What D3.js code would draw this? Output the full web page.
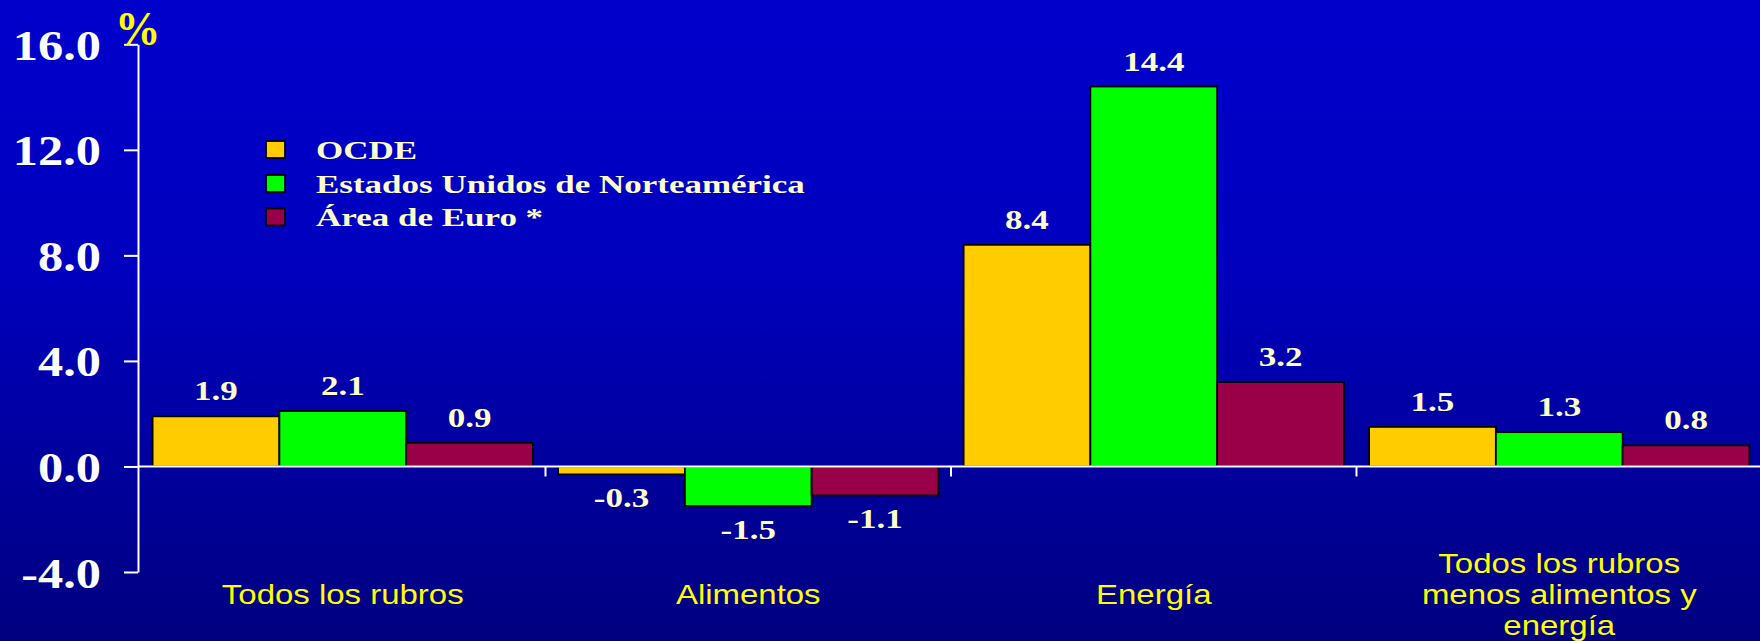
<!DOCTYPE html>
<html>
<head>
<meta charset="utf-8">
<script src="https://cdn.jsdelivr.net/npm/d3@7"></script>
<style>
  html, body { margin: 0; padding: 0; background: #0000cc; overflow: hidden; }
  svg { display: block; }
</style>
</head>
<body>
<svg id="chart" width="1760" height="641"></svg>
<script>
// ---- data ----
const categories = [
  ["Todos los rubros"],
  ["Alimentos"],
  ["Energía"],
  ["Todos los rubros", "menos alimentos y", "energía"]
];
const seriesNames = ["OCDE", "Estados Unidos de Norteamérica", "Área de Euro *"];
const ocde   = [1.9, -0.3, 8.4, 1.5];
const eeuu   = [2.1, -1.5, 14.4, 1.3];
const euro   = [0.9, -1.1, 3.2, 0.8];
const seriesValues = [ocde, eeuu, euro];
const seriesColors = ["#ffcc00", "#00ff00", "#990048"];
const yTicks = [-4, 0, 4, 8, 12, 16];
const yUnit = "%";

// ---- layout ----
const W = 1760, H = 641;
const svg = d3.select("#chart");

const defs = svg.append("defs");
const grad = defs.append("linearGradient").attr("id", "bg")
  .attr("x1", 0).attr("y1", 0).attr("x2", 0).attr("y2", 1);
grad.append("stop").attr("offset", "0").attr("stop-color", "#0000cc");
grad.append("stop").attr("offset", "0.42").attr("stop-color", "#0000be");
grad.append("stop").attr("offset", "1").attr("stop-color", "#000080");
svg.append("rect").attr("width", W).attr("height", H).attr("fill", "url(#bg)");

const axisX = 138;
const y = d3.scaleLinear().domain([-4, 16]).range([572, 44.3]);
const catIdx = d3.range(categories.length);
const x0 = d3.scaleBand().domain(catIdx).range([140, 1762]).padding(0);
const x1 = d3.scaleBand().domain(d3.range(seriesNames.length))
  .range([12.6, x0.bandwidth() - 12.6]).padding(0);

const serif = "'Liberation Serif', 'Times New Roman', serif";
const sans = "'Liberation Sans', Arial, sans-serif";
const fmt = v => v.toFixed(1); // plain hyphen for negatives

function stretchText(sel, sx) {
  sel.each(function() {
    const t = d3.select(this);
    const tx = +t.attr("data-x"), ty = +t.attr("data-y");
    t.attr("transform", `translate(${tx},${ty}) scale(${sx},1)`);
  });
}

// ---- bars ----
const groups = svg.append("g").selectAll("g")
  .data(catIdx).join("g")
  .attr("transform", d => `translate(${x0(d)},0)`);

groups.selectAll("rect")
  .data(ci => seriesValues.map((vals, si) => ({ci, si, v: vals[ci]})))
  .join("rect")
  .attr("x", d => x1(d.si))
  .attr("y", d => y(Math.max(0, d.v)))
  .attr("width", x1.bandwidth())
  .attr("height", d => Math.abs(y(d.v) - y(0)))
  .attr("fill", d => seriesColors[d.si])
  .attr("stroke", "#000")
  .attr("stroke-width", 1.8);

// value labels
groups.selectAll("text.val")
  .data(ci => seriesValues.map((vals, si) => ({ci, si, v: vals[ci]})))
  .join("text").attr("class", "val")
  .attr("data-x", d => x1(d.si) + x1.bandwidth() / 2)
  .attr("data-y", d => d.v >= 0 ? y(d.v) - 16 : y(d.v) + 33)
  .attr("text-anchor", "middle")
  .attr("font-family", serif).attr("font-weight", "bold")
  .attr("font-size", 28).attr("fill", "#ffffcc")
  .text(d => fmt(d.v))
  .call(stretchText, 1.25);

// ---- zero line & category separators ----
svg.append("line")
  .attr("x1", axisX).attr("x2", W)
  .attr("y1", y(0)).attr("y2", y(0))
  .attr("stroke", "#fff").attr("stroke-width", 2);
svg.append("g").selectAll("line")
  .data(catIdx.slice(1)).join("line")
  .attr("x1", d => x0(d)).attr("x2", d => x0(d))
  .attr("y1", y(0)).attr("y2", y(0) + 10)
  .attr("stroke", "#fff").attr("stroke-width", 2);

// ---- y axis ----
const yAxis = svg.append("g")
  .attr("transform", `translate(${axisX},0)`)
  .call(d3.axisLeft(y).tickValues(yTicks).tickFormat(fmt).tickSize(14).tickSizeOuter(0));
yAxis.select(".domain").attr("stroke", "#fff").attr("stroke-width", 2);
yAxis.selectAll(".tick line").attr("stroke", "#fff").attr("stroke-width", 2);
yAxis.selectAll(".tick text")
  .attr("x", null).attr("dy", null)
  .attr("data-x", -37).attr("data-y", 15)
  .attr("text-anchor", "end")
  .attr("font-family", serif).attr("font-weight", "bold")
  .attr("font-size", 42).attr("fill", "#fff")
  .call(stretchText, 1.2);

// unit
svg.append("text")
  .attr("data-x", 115).attr("data-y", 45)
  .attr("font-family", serif).attr("font-weight", "bold")
  .attr("font-size", 48).attr("fill", "#ffff00")
  .text(yUnit)
  .call(stretchText, 0.95);

// ---- category labels ----
const catG = svg.append("g");
categories.forEach((lines, ci) => {
  const cx = x0(ci) + x0.bandwidth() / 2;
  const lh = 30.8;
  const startY = 604 - lh * (lines.length - 1) / 2;
  lines.forEach((ln, li) => {
    catG.append("text")
      .attr("data-x", cx).attr("data-y", startY + li * lh)
      .attr("text-anchor", "middle")
      .attr("font-family", sans).attr("font-size", 26.8)
      .attr("fill", "#ffff00")
      .text(ln)
      .call(stretchText, 1.23);
  });
});

// ---- legend ----
const legend = svg.append("g");
const legBase = [158.5, 192.5, 226];
seriesNames.forEach((name, i) => {
  legend.append("rect")
    .attr("x", 266).attr("y", legBase[i] - 17.5)
    .attr("width", 19).attr("height", 17)
    .attr("fill", seriesColors[i])
    .attr("stroke", "#000").attr("stroke-width", 1.8);
  legend.append("text")
    .attr("data-x", 316).attr("data-y", legBase[i])
    .attr("font-family", serif).attr("font-weight", "bold")
    .attr("font-size", 25).attr("fill", "#ffffcc")
    .text(name)
    .call(stretchText, 1.4);
});
</script>
</body>
</html>
